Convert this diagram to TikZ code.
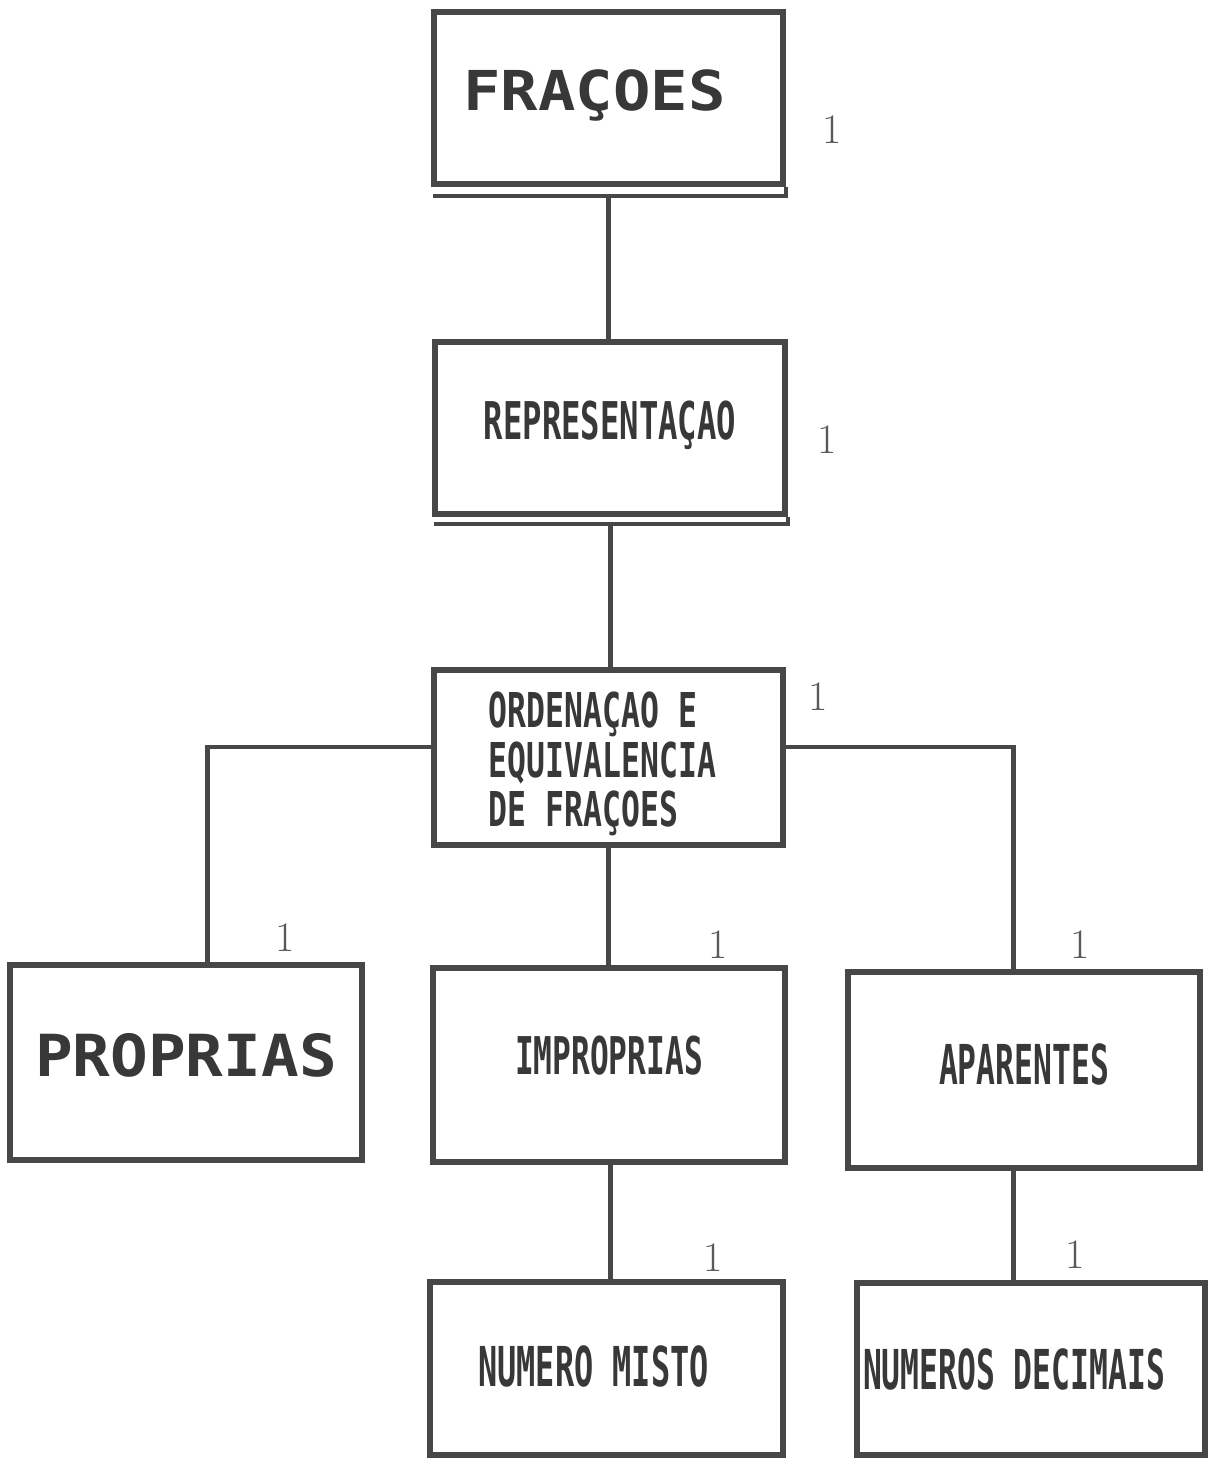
\documentclass[tikz,border=0pt]{standalone}
\usepackage{fontspec}
\usepackage{graphicx}
\newfontfamily\dotfont{DejaVu Sans Mono}
\definecolor{ink}{gray}{0.28}
\definecolor{txt}{gray}{0.22}
\definecolor{pen}{gray}{0.35}
\newcommand{\boxtext}[3]{\scalebox{#1}[1]{\fontsize{#2}{#2}\selectfont\bfseries #3}}
% move a label inside a centred node: extra depth lifts it, extra height lowers it
\newcommand{\liftby}[2]{\raisebox{0pt}[\height][\dimexpr\depth+#1\relax]{#2}}
\newcommand{\dropby}[2]{\raisebox{0pt}[\dimexpr\height+#1\relax][\depth]{#2}}
\tikzset{
  topic/.style={draw=ink, line width=5.5pt, rectangle, inner sep=0pt,
    minimum width=#1, font=\dotfont, text=txt},
  topic/.default=349pt,
  shadowline/.style={draw=ink, line width=3.5pt},
  link/.style={draw=ink, line width=5pt},
  hlink/.style={draw=ink, line width=4pt},
  tick/.style={text=pen, font=\fontsize{42}{42}\selectfont, inner sep=0pt}
}
\begin{document}
\begin{tikzpicture}[x=1pt,y=-1pt]
\useasboundingbox[fill=white] (0,0) rectangle (1219,1461);

% boxes
\node[topic=349pt, minimum height=172pt] (fra) at (608.5,98)
  {\hspace*{-28pt}\liftby{6pt}{\boxtext{1.13}{55}{FRAÇOES}}};
\node[topic=350pt, minimum height=172pt] (rep) at (610,428)
  {\liftby{6pt}{\boxtext{0.62}{52}{REPRESENTAÇAO}}};
\node[topic=349pt, minimum height=175pt, align=left] (ord) at (608.5,757.5)
  {\hspace*{-12pt}\dropby{18pt}{\scalebox{0.655}[1]{\fontsize{48}{47}\selectfont\bfseries
   \begin{tabular}{@{}l@{}}ORDENAÇAO E\\EQUIVALENCIA\\DE FRAÇOES\end{tabular}}}};
\node[topic=352pt, minimum height=195pt] (pro) at (186,1062.5)
  {\liftby{14pt}{\boxtext{1.08}{58}{PROPRIAS}}};
\node[topic=352pt, minimum height=194pt] (imp) at (609,1065)
  {\liftby{18pt}{\boxtext{0.60}{52}{IMPROPRIAS}}};
\node[topic=352pt, minimum height=196pt] (apa) at (1024,1070)
  {\liftby{12pt}{\boxtext{0.57}{55}{APARENTES}}};
\node[topic=353pt, minimum height=173pt] (mix) at (606.5,1368.5)
  {\hspace*{-26pt}\liftby{4pt}{\boxtext{0.58}{55}{NUMERO MISTO}}};
\node[topic=348pt, minimum height=172pt] (dec) at (1031,1369)
  {\hspace*{-34pt}\boxtext{0.57}{55}{NUMEROS DECIMAIS}};

% drop shadow lines under the two upper boxes
\draw[shadowline] ([xshift=2pt,yshift=-9pt]fra.south west) -- ([yshift=-9pt]fra.south east) -- (fra.south east);
\draw[shadowline] ([xshift=2pt,yshift=-7pt]rep.south west) -- ([yshift=-7pt]rep.south east) -- (rep.south east);

% junction points of the branching lines
\coordinate (jl) at (207,747);
\coordinate (jr) at (1013,747);

% connectors
\draw[link] (fra.south |- 0,196) -- (fra.south |- rep.north);
\draw[link] (rep.south |- 0,522) -- (rep.south |- ord.north);
\draw[link] (ord.south) -- (ord.south |- imp.north);
\draw[hlink] (ord.west |- jl) -- (jl);
\draw[link] ([yshift=2pt]jl) -- (jl |- pro.north);
\draw[hlink] (ord.east |- jr) -- (jr);
\draw[link] ([yshift=2pt]jr) -- (jr |- apa.north);
\draw[link] (imp.south -| 610,0) -- (mix.north -| 610,0);
\draw[link] (apa.south -| jr) -- (dec.north -| jr);

% check marks beside the boxes
\node[tick] (t1) at (832,130) {1};
\node[tick] (t2) at (827,440) {1};
\node[tick] (t3) at (818,697) {1};
\node[tick] (t4) at (285,938) {1};
\node[tick] (t5) at (718,945) {1};
\node[tick] (t6) at (1080,945) {1};
\node[tick] (t7) at (713,1258) {1};
\node[tick] (t8) at (1075,1255) {1};
\end{tikzpicture}
\end{document}
